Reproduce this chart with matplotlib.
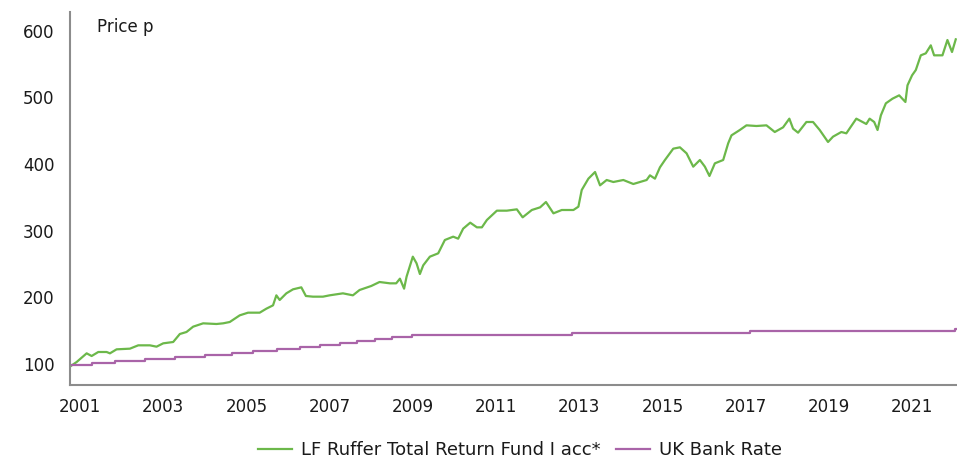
import matplotlib
matplotlib.use("Agg")
import matplotlib.pyplot as plt

# ---- data ----
fund_dates = [2000.78, 2000.92, 2001.05, 2001.16, 2001.28, 2001.44, 2001.64, 2001.72, 2001.88,
              2002.2, 2002.4, 2002.68, 2002.84, 2003.0, 2003.24, 2003.4, 2003.56, 2003.72, 2003.96,
              2004.28, 2004.44, 2004.6, 2004.84, 2005.04, 2005.32, 2005.48, 2005.64, 2005.72, 2005.8,
              2005.96, 2006.12, 2006.32, 2006.43, 2006.6, 2006.84, 2007.0, 2007.32, 2007.56, 2007.72,
              2008.0, 2008.2, 2008.45, 2008.6, 2008.69, 2008.79, 2008.85, 2009.0, 2009.09, 2009.17,
              2009.25, 2009.41, 2009.61, 2009.77, 2009.97, 2010.09, 2010.21, 2010.38, 2010.54, 2010.66,
              2010.78, 2011.02, 2011.26, 2011.5, 2011.64, 2011.86, 2012.06, 2012.2, 2012.38, 2012.58,
              2012.86, 2012.98, 2013.06, 2013.22, 2013.38, 2013.5, 2013.66, 2013.82, 2014.06, 2014.3,
              2014.62, 2014.7, 2014.82, 2014.94, 2015.06, 2015.26, 2015.42, 2015.58, 2015.74, 2015.9,
              2016.02, 2016.13, 2016.26, 2016.46, 2016.58, 2016.66, 2016.86, 2017.02, 2017.26, 2017.5,
              2017.7, 2017.9, 2018.05, 2018.14, 2018.26, 2018.46, 2018.62, 2018.78, 2018.98, 2019.1,
              2019.3, 2019.42, 2019.66, 2019.9, 2019.98, 2020.09, 2020.17, 2020.25, 2020.37, 2020.53,
              2020.69, 2020.84, 2020.89, 2021.0, 2021.09, 2021.21, 2021.33, 2021.45, 2021.53, 2021.73,
              2021.85, 2021.96, 2022.05]
fund_values = [97, 103, 110, 116, 112, 118, 118, 116, 122,
               123, 128, 128, 126, 131, 133, 145, 148, 156, 161,
               160, 161, 163, 173, 177, 177, 183, 188, 203, 196,
               206, 212, 215, 202, 201, 201, 203, 206, 203, 211,
               217, 223, 221, 221, 228, 213, 231, 261, 251, 235,
               248, 261, 266, 286, 291, 288, 303, 312, 305, 305,
               316, 330, 330, 332, 320, 331, 335, 343, 326, 331,
               331, 336, 361, 378, 388, 368, 376, 373, 376, 370,
               376, 383, 378, 395, 406, 423, 425, 416, 396, 406,
               396, 382, 401, 406, 431, 443, 451, 458, 457, 458,
               448, 455, 468, 453, 447, 463, 463, 451, 433, 441,
               448, 446, 468, 460, 468, 463, 451, 473, 491, 498,
               503, 493, 518, 533, 541, 563, 566, 578, 563, 563,
               586, 568, 587]

bank_dates = [2000.78, 2001.28, 2001.84, 2002.56, 2003.28, 2004.0, 2004.65, 2005.17, 2005.73,
              2006.29, 2006.77, 2007.25, 2007.65, 2008.09, 2008.49, 2008.97, 2012.82, 2017.1,
              2022.03, 2022.08]
bank_values = [99, 102, 105, 108, 111, 114, 117, 120, 123,
               126, 129, 132, 135, 138, 141, 144, 147, 150,
               152, 152]

year_ticks = [2001, 2003, 2005, 2007, 2009, 2011, 2013, 2015, 2017, 2019, 2021]
price_ticks = [100, 200, 300, 400, 500, 600]

fund_label = "LF Ruffer Total Return Fund I acc*"
bank_label = "UK Bank Rate"

# ---- styling ----
plt.rcParams['font.family'] = ['DejaVu Sans']
green = '#6cb84a'
purple = '#a964a8'
spine_grey = '#8c8c8c'
text_col = '#1a1a1a'
fs = 12

W, H = 957, 459
fig = plt.figure(figsize=(W / 100, H / 100), dpi=100)
ax = fig.add_axes([70 / W, (H - 385) / H, (957 - 70) / W, (385 - 12) / H])

ax.plot(fund_dates, fund_values, color=green, lw=1.6, label=fund_label)
ax.plot(bank_dates, bank_values, color=purple, lw=1.6, drawstyle='steps-post', label=bank_label)

ax.set_xlim(2000.76, 2022.08)
ax.set_ylim(68.5, 628)
ax.set_xticks(year_ticks)
ax.set_xticklabels([str(y) for y in year_ticks])
ax.set_yticks(price_ticks)

for s in ['top', 'right']:
    ax.spines[s].set_visible(False)
for s in ['left', 'bottom']:
    ax.spines[s].set_color(spine_grey)
    ax.spines[s].set_linewidth(1.5)

ax.tick_params(axis='both', length=0, labelsize=fs, colors=text_col)
ax.tick_params(axis='y', pad=11)
ax.tick_params(axis='x', pad=9)

fig.text(97 / W, 1 - 32 / H, "Price p", fontsize=fs, color=text_col, ha='left', va='baseline')

leg = fig.legend(loc='center', bbox_to_anchor=(520 / W, 1 - 450 / H), ncol=2, frameon=False,
                 fontsize=13, handlelength=1.9, handletextpad=0.5, columnspacing=0.8)
for t in leg.get_texts():
    t.set_color(text_col)

fig.savefig("out.png", dpi=100)
